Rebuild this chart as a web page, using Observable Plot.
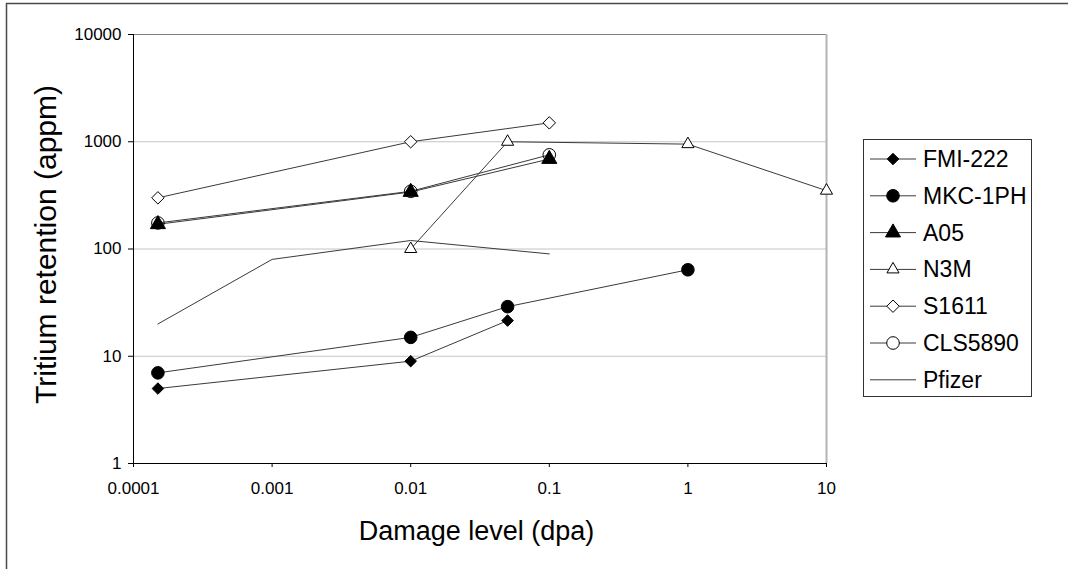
<!DOCTYPE html>
<html><head><meta charset="utf-8">
<script src="https://cdn.jsdelivr.net/npm/d3@7"></script>
<script src="https://cdn.jsdelivr.net/npm/@observablehq/plot@0.6"></script>
<style>
body{margin:0;background:#fff;}
#chart{position:relative;width:1068px;height:569px;overflow:hidden;}
</style>
</head><body><div id="chart"></div>
<script>
// ---- data ----
const seriesNames = ["FMI-222", "MKC-1PH", "A05", "N3M", "S1611", "CLS5890", "Pfizer"];
const fmiX = [0.00015, 0.01, 0.05];
const fmiY = [5, 9, 21.5];
const mkcX = [0.00015, 0.01, 0.05, 1];
const mkcY = [7, 15, 29, 64];
const a05X = [0.00015, 0.01, 0.1];
const a05Y = [170, 340, 690];
const n3mX = [0.01, 0.05, 1, 10];
const n3mY = [100, 1000, 950, 350];
const s1611X = [0.00015, 0.01, 0.1];
const s1611Y = [300, 1000, 1500];
const clsX = [0.00015, 0.01, 0.1];
const clsY = [175, 345, 755];
const pfizerX = [0.00015, 0.001, 0.01, 0.1];
const pfizerY = [20, 80, 120, 90];

const xTicks = [0.0001, 0.001, 0.01, 0.1, 1, 10];
const xTickLabels = ["0.0001", "0.001", "0.01", "0.1", "1", "10"];
const yTicks = [1, 10, 100, 1000, 10000];
const yTickLabels = ["1", "10", "100", "1000", "10000"];
const xTitle = "Damage level (dpa)";
const yTitle = "Tritium retention (appm)";

// marker styles per series
const markerStyle = {
  "FMI-222": {symbol: "diamond2", fill: "black", stroke: "black", r: 5.2},
  "MKC-1PH": {symbol: "circle", fill: "black", stroke: "black", r: 6.3},
  "A05":     {symbol: "triangle", fill: "black", stroke: "black", r: 5.6},
  "N3M":     {symbol: "triangle2", fill: "white", stroke: "black", r: 5.8},
  "S1611":   {symbol: "diamond2", fill: "white", stroke: "black", r: 5.6},
  "CLS5890": {symbol: "circle", fill: "none", stroke: "black", r: 6.3},
  "Pfizer":  null
};

const xs = [fmiX, mkcX, a05X, n3mX, s1611X, clsX, pfizerX];
const ys = [fmiY, mkcY, a05Y, n3mY, s1611Y, clsY, pfizerY];
const rows = [];
seriesNames.forEach((s, i) => xs[i].forEach((x, j) => rows.push({series: s, x, y: ys[i][j]})));

const W = 1068, H = 569;
const mL = 133, mT = 34, mR = W - 826, mB = H - 463;

const dotMarks = seriesNames.filter(s => markerStyle[s]).map(s => {
  const m = markerStyle[s];
  return Plot.dot(rows.filter(d => d.series === s), {
    x: "x", y: "y", symbol: () => m.symbol, r: m.r,
    fill: m.fill, stroke: m.stroke, strokeWidth: 1
  });
});

const chart = Plot.plot({
  width: W, height: H,
  marginLeft: mL, marginTop: mT, marginRight: mR, marginBottom: mB,
  style: {fontFamily: "'Liberation Sans', Arial, sans-serif", background: "white", color: "black"},
  x: {type: "log", domain: [xTicks[0], xTicks[xTicks.length - 1]]},
  y: {type: "log", domain: [yTicks[0], yTicks[yTicks.length - 1]]},
  symbol: {type: "identity"},
  marks: [
    Plot.ruleY(yTicks.slice(1, -1), {stroke: "#c4c4c4", strokeWidth: 1}),
    Plot.ruleY([yTicks[yTicks.length - 1]], {stroke: "#808080", strokeWidth: 1}),
    Plot.ruleX([xTicks[xTicks.length - 1]], {stroke: "#b4b4b4", strokeWidth: 2}),
    Plot.line(rows, {x: "x", y: "y", z: "series", stroke: "#3a3a3a", strokeWidth: 1}),
    ...dotMarks,
    Plot.ruleY([yTicks[0]], {stroke: "black", strokeWidth: 1}),
    Plot.ruleX([xTicks[0]], {stroke: "black", strokeWidth: 1}),
    Plot.axisX({ticks: xTicks, tickFormat: d => xTickLabels[xTicks.indexOf(d)], tickSize: 4,
      tickPadding: 14, fontSize: 17, label: null, stroke: "black"}),
    Plot.axisY({ticks: yTicks, tickFormat: d => yTickLabels[yTicks.indexOf(d)], tickSize: 5,
      tickPadding: 7, fontSize: 17, label: null, stroke: "black"})
  ]
});

document.getElementById("chart").appendChild(chart);
const svg = d3.select(chart);

// outer chart frame
svg.append("rect").attr("x", 6.5).attr("y", 3.5).attr("width", W + 20).attr("height", H + 20)
  .attr("fill", "none").attr("stroke", "#4a4a4a").attr("stroke-width", 1.5);

// axis titles
svg.append("text").attr("x", (mL + (W - mR)) / 2 - 3).attr("y", 540)
  .attr("text-anchor", "middle").attr("font-size", 27).attr("fill", "black").text(xTitle);
svg.append("text").attr("transform", `translate(56,${(mT + (H - mB)) / 2 - 4}) rotate(-90)`)
  .attr("text-anchor", "middle").attr("font-size", 30).attr("fill", "black").text(yTitle);

// legend
const lg = svg.append("g");
lg.append("rect").attr("x", 863.5).attr("y", 139.5).attr("width", 168).attr("height", 257)
  .attr("fill", "white").attr("stroke", "#333").attr("stroke-width", 1);
seriesNames.forEach((s, i) => {
  const cy = 159 + i * 36.8;
  lg.append("line").attr("x1", 870).attr("x2", 916).attr("y1", cy).attr("y2", cy)
    .attr("stroke", "#3a3a3a").attr("stroke-width", 1);
  const m = markerStyle[s];
  if (m) {
    const typ = {circle: d3.symbolCircle, diamond2: d3.symbolDiamond2, triangle: d3.symbolTriangle, triangle2: d3.symbolTriangle2}[m.symbol];
    lg.append("path").attr("transform", `translate(893,${cy})`)
      .attr("d", d3.symbol(typ, Math.PI * m.r * m.r)())
      .attr("fill", m.fill === "none" ? "white" : m.fill).attr("stroke", m.stroke);
  }
  lg.append("text").attr("x", 923).attr("y", cy).attr("dy", "0.35em")
    .attr("text-anchor", "start")
    .attr("font-size", 23).attr("fill", "black").text(s);
});
</script>
</body></html>
